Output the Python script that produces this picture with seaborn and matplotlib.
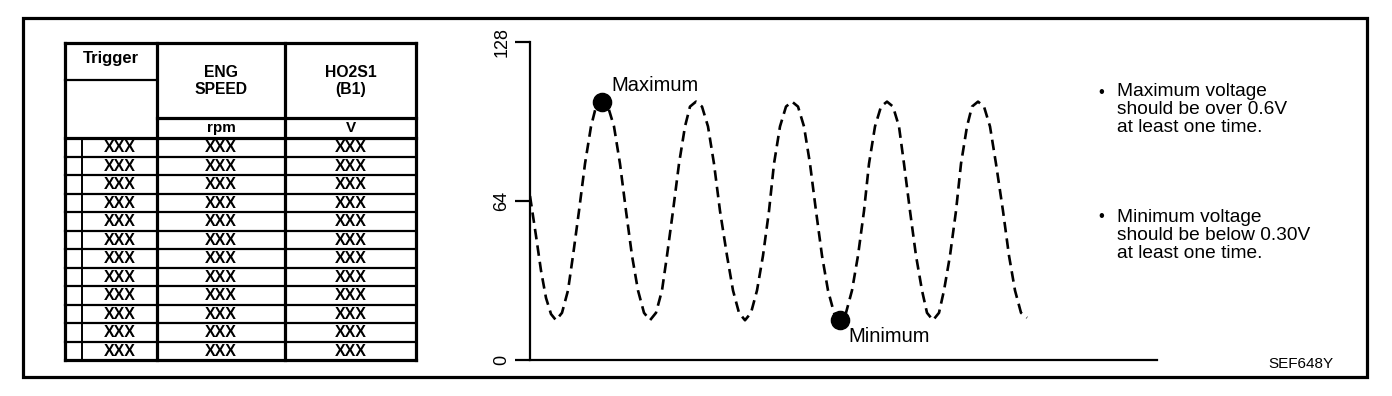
import matplotlib
matplotlib.use("Agg")
import matplotlib.pyplot as plt
import seaborn as sns
import pandas as pd

# ---------------- data ----------------
table_headers = ["Trigger", "ENG\nSPEED", "HO2S1\n(B1)"]
table_units = ["", "rpm", "V"]
table_cells = ["XXX"] * 12

wave_t = [0, 6, 11, 16, 21, 26,
          32, 38, 43, 49, 55, 61, 66, 72,
          78, 84, 90, 96, 102, 108, 114, 120,
          126, 132, 137, 143, 149, 155, 160, 166,
          172, 178, 184, 190, 197, 203, 209, 215,
          221, 227, 233, 239, 244, 250, 256, 262,
          268, 274, 280, 286, 292, 298, 304, 310,
          316, 322, 328, 334, 339, 345, 351, 357,
          363, 369, 374, 380, 386, 392, 397, 403,
          409, 414, 420, 426, 431, 437, 442, 448,
          454, 460, 466, 473, 479, 485, 491, 497]
wave_v = [66, 50, 36, 25, 18.5, 16,
          19, 28, 42, 60, 79, 94, 102, 104,
          102, 94, 79, 60, 42, 28, 19, 16,
          19, 28, 42, 60, 79, 94, 102, 104,
          102, 94, 79, 60, 42, 28, 19, 16,
          19, 28, 42, 60, 79, 94, 102, 104,
          102, 94, 79, 60, 42, 28, 19, 16,
          19, 28, 42, 60, 79, 94, 102, 104,
          102, 94, 79, 60, 42, 28, 19, 16,
          19, 28, 42, 60, 79, 94, 102, 104,
          102, 94, 79, 60, 42, 28, 19, 17]

point_labels = ["Maximum", "Minimum"]
point_t = [72, 310]
point_v = [104, 16]

y_ticks = [0, 64, 128]
notes = [["Maximum voltage", "should be over 0.6V", "at least one time."],
         ["Minimum voltage", "should be below 0.30V", "at least one time."]]
code_label = "SEF648Y"

# ---------------- figure ----------------
sns.set_theme(style="white")
plt.rcParams["font.family"] = ["Liberation Sans", "DejaVu Sans"]
plt.rcParams["text.color"] = "black"
plt.rcParams["ytick.color"] = "black"
plt.rcParams["axes.labelcolor"] = "black"

W, H = 1392, 396
fig = plt.figure(figsize=(W / 100, H / 100), dpi=100)
fig.patch.set_facecolor("white")

# overlay in pixel coordinates for frame / table / notes
ov = fig.add_axes([0, 0, 1, 1])
ov.set_xlim(0, W)
ov.set_ylim(H, 0)
ov.axis("off")

def hl(x0, x1, y, lw):
    ov.plot([x0, x1], [y, y], color="black", lw=lw, solid_capstyle="projecting")

def vl(x, y0, y1, lw):
    ov.plot([x, x], [y0, y1], color="black", lw=lw, solid_capstyle="projecting")

# outer frame
ov.add_patch(plt.Rectangle((23, 18), 1344, 359, fill=False, ec="black", lw=2.3))

# table geometry
cols = [65, 157, 285, 416]
top, trig_line, unit_line, data_top, bottom = 43, 80, 118, 138, 360
nrows = len(table_cells)
rh = (bottom - data_top) / nrows

hl(cols[0], cols[-1], top, 2.3)
hl(cols[0], cols[-1], bottom, 2.3)
for c in cols:
    vl(c, top, bottom, 2.3)
hl(cols[0], cols[1], trig_line, 1.6)
hl(cols[1], cols[-1], unit_line, 2.3)
hl(cols[0], cols[-1], data_top, 2.3)
vl(82, data_top, bottom, 1.4)
for i in range(1, nrows):
    hl(cols[0], cols[-1], data_top + i * rh, 1.6)

# header texts
ov.text((cols[0] + cols[1]) / 2, 58, table_headers[0], ha="center", va="center",
        fontsize=12, fontweight="bold")
for j in (1, 2):
    ov.text((cols[j] + cols[j + 1]) / 2, 81, table_headers[j], ha="center", va="center",
            fontsize=11.3, fontweight="bold", linespacing=1.15)
    ov.text((cols[j] + cols[j + 1]) / 2, 128, table_units[j], ha="center", va="center",
            fontsize=11, fontweight="bold")
for i, val in enumerate(table_cells):
    yc = data_top + (i + 0.5) * rh
    for xc in ((82 + cols[1]) / 2, (cols[1] + cols[2]) / 2, (cols[2] + cols[3]) / 2):
        ov.text(xc, yc + 0.5, val, ha="center", va="center", fontsize=11.5,
                fontweight="bold")

# notes
for k, (block, ytop) in enumerate(zip(notes, [92, 217])):
    ov.text(1098, ytop, "•", ha="left", va="center", fontsize=12)
    for m, line in enumerate(block):
        ov.text(1117, ytop + m * 18, line, ha="left", va="center", fontsize=13.8)

ov.text(1268, 364, code_label, ha="left", va="center", fontsize=11)

# ---------------- chart axes ----------------
ax = fig.add_axes([530 / W, (H - 360) / H, 627 / W, 318 / H])
ax.patch.set_alpha(0)
df = pd.DataFrame({"t": wave_t, "v": wave_v})
sns.lineplot(data=df, x="t", y="v", ax=ax, color="black", lw=1.9,
             linestyle=(0, (4, 2.3)))
pts = pd.DataFrame({"t": point_t, "v": point_v, "label": point_labels})
sns.scatterplot(data=pts, x="t", y="v", ax=ax, color="black", s=170, edgecolor="black",
                zorder=5, legend=False)
ax.annotate(point_labels[0], (point_t[0], point_v[0]), xytext=(7, 5), textcoords="offset points",
            ha="left", va="bottom", fontsize=14.5)
ax.annotate(point_labels[1], (point_t[1], point_v[1]), xytext=(6, -5), textcoords="offset points",
            ha="left", va="top", fontsize=14.5)

ax.set_xlim(0, 627)
ax.set_ylim(0, 128)
ax.set_xticks([])
ax.set_yticks(y_ticks)
ax.set_yticklabels([str(v) for v in y_ticks], rotation=90, va="center", fontsize=13)
ax.tick_params(axis="y", direction="out", length=11, width=1.6, pad=3, left=True, color="black")
ax.set_xlabel("")
ax.set_ylabel("")
for s in ["top", "right"]:
    ax.spines[s].set_visible(False)
for s in ["left", "bottom"]:
    ax.spines[s].set_color("black")
    ax.spines[s].set_linewidth(1.6)

fig.savefig("out.png", dpi=100)
